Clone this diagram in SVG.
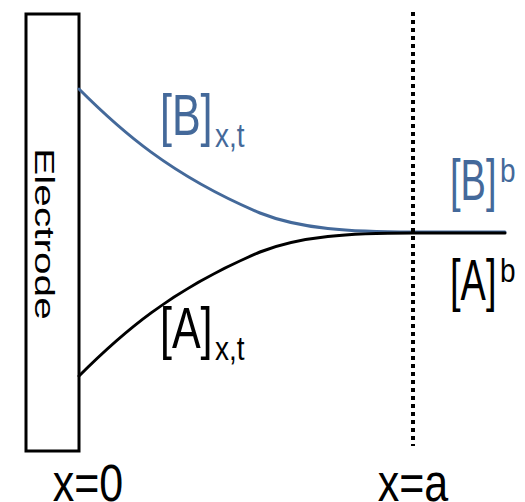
<svg xmlns="http://www.w3.org/2000/svg" width="525" height="502" viewBox="0 0 525 502">
<style>
.t{font-family:"Liberation Sans",Arial,sans-serif;}
.blue{fill:#44699a;}
.blk{fill:#000;}
.main{font-size:43px;}
.main2{font-size:38px;}
.sub{font-size:28px;}
</style>
<rect width="525" height="502" fill="#fff"/>
<g id="electrode">
<rect x="26" y="14" width="53" height="437" fill="#fff" stroke="#000" stroke-width="3"/>
<text class="t blk" font-size="28" text-anchor="middle" transform="translate(35,234) rotate(90) scale(1.45,1)">Electrode</text>
</g>
<g id="connectors" fill="none" stroke-width="3" stroke-linecap="round">
<path id="curveB" d="M79,89 C120,130 170,175 260,213 C300,229 350,232 413,232 L505,232" stroke="#44699a"/>
<path id="curveA" d="M79,376 C120,335 170,290 260,252 C300,236 350,233 413,233 L505,233" stroke="#000"/>
<line id="boundary" x1="413" y1="12" x2="413" y2="446" stroke="#000" stroke-width="4" stroke-dasharray="4 4" stroke-linecap="butt"/>
</g>
<g id="labelBxt">
<text class="t blue main" transform="translate(160,135) scale(1,1.35)">[B]</text>
<text class="t blue sub" transform="translate(215,147) scale(1,1.2)">x,t</text>
</g>
<g id="labelAxt">
<text class="t blk main" transform="translate(160,348) scale(1,1.35)">[A]</text>
<text class="t blk sub" transform="translate(215,360) scale(1,1.2)">x,t</text>
</g>
<g id="labelBb">
<text class="t blue main2" transform="translate(450,200) scale(1,1.5)">[B]</text>
<text class="t blue sub" transform="translate(500,182) scale(1,1.2)">b</text>
</g>
<g id="labelAb">
<text class="t blk main2" transform="translate(450,300) scale(1,1.5)">[A]</text>
<text class="t blk sub" transform="translate(500,282) scale(1,1.2)">b</text>
</g>
<g id="labelX0">
<text class="t blk" font-size="43" text-anchor="middle" transform="translate(88,501) scale(1,1.2)">x=0</text>
</g>
<g id="labelXa">
<text class="t blk" font-size="43" text-anchor="middle" transform="translate(413,501) scale(1,1.2)">x=a</text>
</g>
</svg>
